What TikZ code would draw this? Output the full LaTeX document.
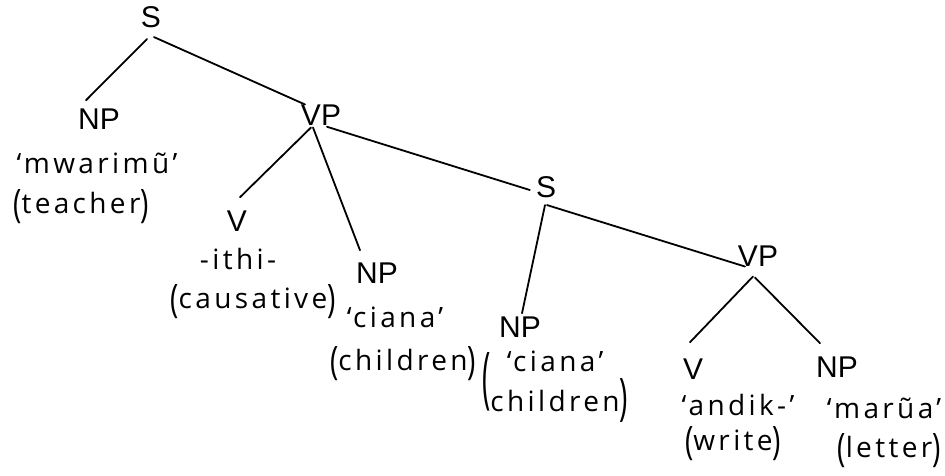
\documentclass[tikz,border=0pt]{standalone}
\usepackage{fontspec}
\usepackage{graphicx}
\setmainfont{Liberation Sans}
\newfontfamily\handfont[LetterSpace=12]{Open Sans}
% slightly tall parentheses for the glosses
\newcommand\gopen{\raisebox{-4pt}{\scalebox{1}[1.4]{(}}}
\newcommand\gclose{\raisebox{-4pt}{\scalebox{1}[1.4]{)}}}

\tikzset{
  cat/.style={font=\fontsize{30}{30}\selectfont, inner sep=0pt},
  gloss/.style={font=\handfont\fontsize{28}{34}\selectfont, inner sep=0pt, anchor=base},
  branch/.style={line width=1.8pt, line cap=round},
}

\begin{document}
\begin{tikzpicture}[x=1pt,y=1pt]
\useasboundingbox (0,0) rectangle (945,-475);

% category labels
\node[cat] (s1)  at (151,-17)   {S};
\node[cat] (np1) at (99,-119)   {NP};
\node[cat] (vp1) at (321,-115)  {VP};
\node[cat] (v1)  at (237,-221)  {V};
\node[cat] (np2) at (377,-273)  {NP};
\node[cat] (s2)  at (546,-187.5){S};
\node[cat] (vp2) at (758,-256)  {VP};
\node[cat] (np3) at (520,-327)  {NP};
\node[cat] (v2)  at (693,-369)  {V};
\node[cat] (np4) at (837,-367)  {NP};

% lexical items and glosses
\node[gloss] (np1w) at (97,-173)  {‘mwarimũ’};
\node[gloss] (np1g) at (81,-213)  {\gopen teacher\gclose};
\node[gloss] (v1w)  at (238,-269) {-ithi-};
\node[gloss] (v1g)  at (253,-308) {\gopen causative\gclose};
\node[gloss] (np2w) at (395,-327) {‘ciana’};
\node[gloss] (np2g) at (403,-370) {\gopen children\gclose};
% two-line item held in one pair of tall parentheses
\node[gloss, anchor=base west] (np3w) at (482,-371)
  {\raisebox{-29pt}{\scalebox{1}[2.4]{(}}\begin{tabular}[t]{@{}c@{}}‘ciana’\\[6pt]children\end{tabular}\raisebox{-43pt}{\scalebox{1}[1.8]{)}}};
\node[gloss] (v2w)  at (738,-415) {‘andik-’};
\node[gloss] (v2g)  at (733,-450) {\gopen write\gclose};
\node[gloss] (np4w) at (884,-418) {‘marũa’};
\node[gloss] (np4g) at (889,-457) {\gopen letter\gclose};

% branches
\draw[branch] ([shift={(-4,-11.25)}]s1.south) -- ([shift={(-13,8.25)}]np1.north);
\draw[branch] ([shift={(3,-9.25)}]s1.south)   -- ([shift={(-16,0)}]vp1.north);
\draw[branch] ([shift={(-10,-2)}]vp1.south)   -- ([shift={(3,13.25)}]v1.north);
\draw[branch] ([shift={(-8,-2)}]vp1.south)    -- ([shift={(-17,12.25)}]np2.north);
\draw[branch] ([shift={(6,-1.25)}]vp1.south)  -- ([shift={(-6,-2.5)}]s2.west);
\draw[branch] ([shift={(-1,-6.75)}]s2.south)  -- ([shift={(2,3.25)}]np3.north);
\draw[branch] ([shift={(1,-6.75)}]s2.south)   -- ([shift={(-13,0)}]vp2.south);
\draw[branch] ([shift={(-5,-10)}]vp2.south)   -- ([shift={(-3,16.25)}]v2.north);
\draw[branch] ([shift={(-3,-11)}]vp2.south)   -- ([shift={(-17,13.25)}]np4.north);
\end{tikzpicture}
\end{document}
